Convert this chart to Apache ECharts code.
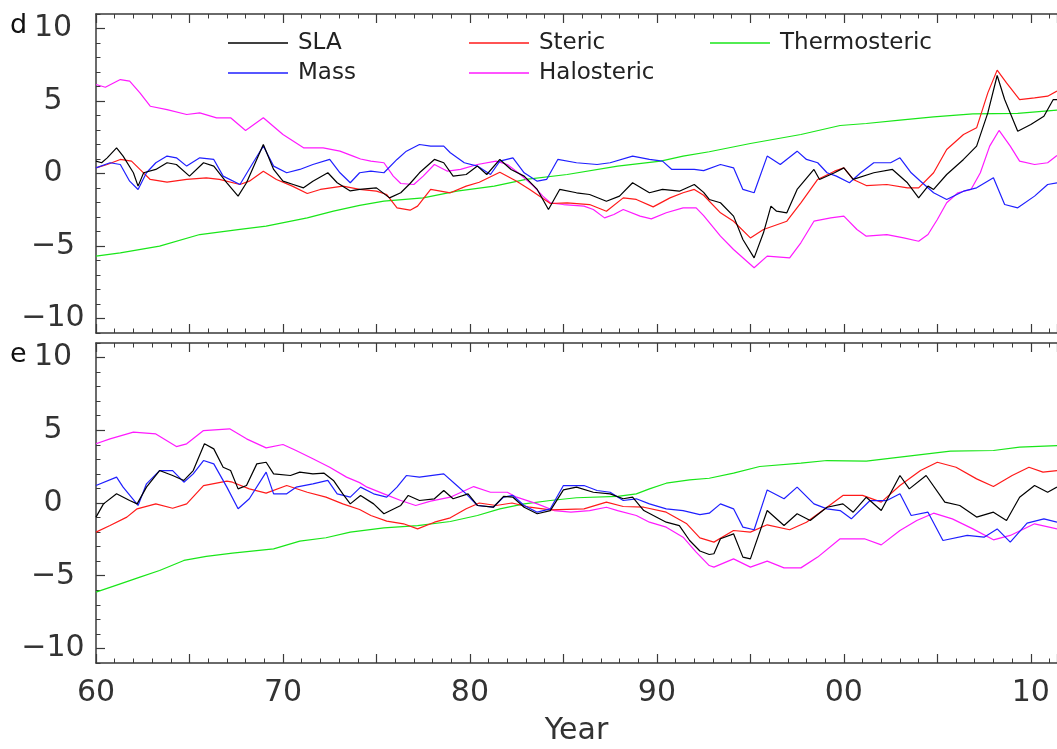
<!DOCTYPE html>
<html>
<head>
<meta charset="utf-8">
<script src="https://cdn.jsdelivr.net/npm/echarts@6/dist/echarts.min.js"></script>
<style>
html,body{margin:0;padding:0;background:#fff;}
#chart{width:1057px;height:749px;}
</style>
</head>
<body>
<div id="chart"></div>
<script>
// ---------- data: [year, value] ----------
const seriesNames = ['SLA', 'Mass', 'Steric', 'Halosteric', 'Thermosteric'];
const panelLabels = ['d', 'e'];
const xLabelYears = [1960, 1970, 1980, 1990, 2000, 2010];
const yLabelValues = [-10, -5, 0, 5, 10];

const dSLA = [[1960,0.85],[1960.3,0.74],[1960.6,1.08],[1961.1,1.77],[1961.45,1.2],[1962.0,0.05],[1962.25,-0.87],[1962.55,0.05],[1963.2,0.28],[1963.8,0.74],[1964.3,0.62],[1965.0,-0.18],[1965.75,0.74],[1966.3,0.51],[1967.0,-0.64],[1967.6,-1.56],[1968.05,-0.64],[1968.95,2.0],[1969.5,0.28],[1970.0,-0.53],[1970.55,-0.76],[1971.1,-0.99],[1971.6,-0.53],[1972.4,0.05],[1972.9,-0.64],[1973.6,-1.2],[1974.1,-1.1],[1975.0,-0.99],[1975.7,-1.68],[1976.3,-1.33],[1976.8,-0.69],[1977.3,0.05],[1978.1,0.97],[1978.6,0.74],[1979.1,-0.18],[1979.8,-0.07],[1980.4,0.51],[1980.9,-0.07],[1981.6,0.97],[1982.2,0.28],[1982.9,-0.18],[1983.6,-1.1],[1984.2,-2.48],[1984.8,-1.1],[1985.7,-1.33],[1986.4,-1.45],[1987.3,-1.91],[1988.0,-1.56],[1988.7,-0.64],[1989.6,-1.33],[1990.3,-1.1],[1991.2,-1.22],[1992.0,-0.76],[1992.5,-1.3],[1992.8,-1.79],[1993.4,-2.02],[1994.1,-2.94],[1994.6,-4.55],[1995.2,-5.82],[1995.7,-4.09],[1996.1,-2.25],[1996.4,-2.6],[1996.95,-2.71],[1997.5,-1.1],[1998.4,0.28],[1998.7,-0.41],[1999.5,0.05],[2000.0,0.39],[2000.5,-0.41],[2001.6,0.05],[2002.6,0.28],[2003.4,-0.64],[2004.0,-1.68],[2004.5,-0.87],[2004.8,-1.1],[2005.5,-0.07],[2006.4,0.97],[2007.1,1.89],[2007.7,4.18],[2008.2,6.76],[2008.6,5.1],[2009.3,2.92],[2010.0,3.38],[2010.7,3.95],[2011.2,5.1],[2011.4,5.1]];
const dMass = [[1960,0.39],[1960.75,0.74],[1961.3,0.62],[1961.8,-0.53],[1962.25,-1.1],[1962.7,0.05],[1963.2,0.74],[1963.8,1.2],[1964.3,1.08],[1964.85,0.51],[1965.55,1.08],[1966.3,0.97],[1966.8,-0.18],[1967.7,-0.76],[1968.4,0.74],[1968.95,1.89],[1969.5,0.51],[1970.2,0.05],[1970.9,0.28],[1971.6,0.62],[1972.5,0.97],[1973.05,0.05],[1973.6,-0.64],[1974.1,0.05],[1974.7,0.16],[1975.4,0.05],[1976.1,0.97],[1976.6,1.54],[1977.3,2.0],[1977.9,1.89],[1978.6,1.89],[1978.95,1.43],[1979.7,0.74],[1980.4,0.51],[1981.1,-0.07],[1981.6,0.85],[1982.3,1.08],[1982.9,0.05],[1983.6,-0.53],[1984.1,-0.41],[1984.7,0.97],[1985.7,0.74],[1986.8,0.62],[1987.5,0.74],[1988.7,1.2],[1989.6,0.97],[1990.3,0.85],[1990.8,0.28],[1992.0,0.28],[1992.5,0.2],[1993.4,0.62],[1994.1,0.39],[1994.6,-1.1],[1995.2,-1.33],[1995.9,1.2],[1996.6,0.62],[1997.5,1.54],[1998.0,0.97],[1998.6,0.74],[1999.1,0.05],[1999.6,-0.18],[2000.3,-0.64],[2000.9,0.05],[2001.6,0.74],[2002.5,0.74],[2003.0,1.08],[2003.6,0.05],[2004.1,-0.53],[2004.8,-1.33],[2005.5,-1.79],[2006.4,-1.22],[2007.1,-0.99],[2008.0,-0.3],[2008.6,-2.14],[2009.3,-2.37],[2010.2,-1.56],[2010.9,-0.76],[2011.4,-0.64]];
const dSteric = [[1960,0.39],[1960.6,0.62],[1961.3,0.97],[1961.9,0.85],[1962.35,0.28],[1962.9,-0.41],[1963.8,-0.6],[1964.85,-0.41],[1965.9,-0.3],[1966.6,-0.41],[1967.7,-0.76],[1968.2,-0.53],[1968.95,0.16],[1969.65,-0.41],[1970.5,-0.87],[1971.3,-1.38],[1972.0,-1.1],[1973.2,-0.87],[1974.1,-1.1],[1975.0,-1.22],[1975.55,-1.45],[1976.1,-2.37],[1976.8,-2.53],[1977.2,-2.25],[1977.9,-1.1],[1978.95,-1.33],[1979.8,-0.87],[1980.5,-0.6],[1981.6,0.09],[1982.5,-0.53],[1983.2,-1.1],[1984.3,-2.07],[1985.2,-2.02],[1986.4,-2.14],[1987.3,-2.6],[1988.2,-1.68],[1988.9,-1.79],[1989.8,-2.3],[1990.7,-1.68],[1991.4,-1.33],[1992.0,-1.1],[1992.5,-1.5],[1993.4,-2.71],[1994.1,-3.29],[1995.0,-4.44],[1995.7,-3.86],[1996.95,-3.29],[1997.7,-2.02],[1998.6,-0.41],[1999.5,0.16],[2000.0,0.39],[2000.5,-0.41],[2001.2,-0.83],[2002.3,-0.76],[2003.4,-0.99],[2004.0,-0.99],[2004.8,0.05],[2005.5,1.66],[2006.4,2.69],[2007.1,3.15],[2007.7,5.56],[2008.2,7.13],[2008.7,6.25],[2009.4,5.1],[2010.2,5.22],[2010.9,5.33],[2011.4,5.68]];
const dHalosteric = [[1960,6.14],[1960.5,5.95],[1961.3,6.48],[1961.8,6.37],[1962.35,5.56],[1962.9,4.64],[1963.8,4.41],[1964.85,4.07],[1965.55,4.18],[1966.45,3.84],[1967.2,3.84],[1968.0,2.97],[1968.95,3.84],[1970.0,2.69],[1971.1,1.77],[1972.15,1.77],[1973.05,1.54],[1973.75,1.2],[1974.15,1.0],[1974.7,0.85],[1975.4,0.74],[1975.9,-0.18],[1976.3,-0.69],[1977.0,-0.76],[1977.5,-0.18],[1978.1,0.62],[1978.8,0.16],[1979.5,0.28],[1980.4,0.62],[1981.4,0.85],[1982.0,0.62],[1982.7,-0.07],[1983.4,-0.87],[1983.9,-1.56],[1984.3,-2.02],[1985.0,-2.14],[1986.1,-2.25],[1986.6,-2.48],[1987.2,-3.06],[1987.7,-2.83],[1988.2,-2.48],[1989.1,-2.94],[1989.7,-3.13],[1990.5,-2.71],[1991.4,-2.37],[1992.1,-2.37],[1992.5,-2.9],[1993.4,-4.32],[1994.1,-5.24],[1995.2,-6.5],[1995.9,-5.7],[1997.1,-5.82],[1997.7,-4.78],[1998.4,-3.29],[1999.3,-3.06],[2000.0,-2.94],[2000.7,-3.86],[2001.2,-4.32],[2002.3,-4.21],[2003.2,-4.44],[2004.0,-4.67],[2004.5,-4.21],[2005.0,-3.17],[2005.5,-2.02],[2006.1,-1.33],[2006.8,-1.1],[2007.3,0.05],[2007.8,1.89],[2008.3,2.97],[2008.9,1.89],[2009.4,0.85],[2010.2,0.62],[2010.9,0.74],[2011.4,1.25]];
const dThermosteric = [[1960,-5.7],[1961.3,-5.47],[1963.4,-5.01],[1965.55,-4.21],[1967.7,-3.86],[1969.1,-3.63],[1971.3,-3.06],[1972.7,-2.6],[1974.1,-2.2],[1975.4,-1.91],[1977.5,-1.68],[1979.3,-1.22],[1981.3,-0.87],[1983.0,-0.41],[1985.2,-0.07],[1987.9,0.51],[1990.2,0.85],[1991.4,1.2],[1992.8,1.5],[1995.0,2.07],[1997.7,2.69],[1999.8,3.31],[2001.2,3.45],[2003.0,3.68],[2004.8,3.91],[2006.9,4.11],[2009.3,4.14],[2011.4,4.37]];

const eSLA = [[1960,-0.97],[1960.4,-0.06],[1961.1,0.63],[1961.8,0.17],[1962.2,-0.06],[1962.7,1.09],[1963.4,2.23],[1964.1,1.89],[1964.7,1.55],[1965.2,2.23],[1965.8,4.07],[1966.3,3.72],[1966.8,2.46],[1967.2,2.23],[1967.6,0.97],[1968.05,1.2],[1968.6,2.69],[1969.1,2.8],[1969.5,2.0],[1970.4,1.89],[1970.9,2.12],[1971.6,2.0],[1972.2,2.05],[1972.7,1.55],[1973.2,0.63],[1973.6,-0.06],[1974.15,0.52],[1974.85,-0.06],[1975.4,-0.74],[1976.3,-0.17],[1976.7,0.52],[1977.3,0.17],[1978.1,0.29],[1978.6,0.86],[1979.1,0.29],[1979.9,0.63],[1980.4,-0.17],[1981.25,-0.29],[1981.8,0.45],[1982.3,0.4],[1982.9,-0.29],[1983.6,-0.74],[1984.3,-0.52],[1985.0,0.9],[1985.7,1.09],[1986.6,0.74],[1987.5,0.63],[1988.2,0.29],[1988.7,0.4],[1989.3,-0.52],[1990.5,-1.32],[1991.2,-1.55],[1991.75,-2.58],[1992.3,-3.3],[1992.8,-3.54],[1993.05,-3.49],[1993.4,-2.46],[1994.1,-2.12],[1994.6,-3.72],[1995.0,-3.84],[1995.9,-0.52],[1996.8,-1.55],[1997.5,-0.74],[1998.2,-1.2],[1999.1,-0.29],[1999.95,-0.06],[2000.5,-0.63],[2001.2,0.4],[2002.0,-0.52],[2003.0,1.89],[2003.5,0.97],[2004.4,1.89],[2005.4,0.06],[2006.2,-0.17],[2007.1,-0.97],[2008.0,-0.63],[2008.7,-1.2],[2009.4,0.4],[2010.2,1.2],[2010.9,0.74],[2011.4,1.09]];
const eMass = [[1960,1.2],[1961.1,1.78],[1961.45,1.09],[1962.25,-0.17],[1962.7,1.32],[1963.4,2.23],[1964.1,2.23],[1964.7,1.43],[1965.2,2.0],[1965.75,2.92],[1966.3,2.69],[1967.0,1.09],[1967.6,-0.4],[1968.2,0.29],[1969.1,2.12],[1969.5,0.63],[1970.2,0.63],[1970.7,1.09],[1971.6,1.32],[1972.4,1.55],[1972.9,0.63],[1973.6,0.4],[1974.15,1.09],[1974.85,0.63],[1975.55,0.4],[1976.1,1.09],[1976.6,1.89],[1977.3,1.78],[1978.6,2.0],[1979.3,1.2],[1979.8,0.63],[1980.4,-0.17],[1981.25,-0.29],[1981.8,0.4],[1982.3,0.52],[1982.9,-0.17],[1983.6,-0.63],[1984.3,-0.4],[1985.0,1.2],[1986.1,1.2],[1986.8,0.86],[1987.5,0.74],[1988.2,0.17],[1988.9,0.29],[1989.6,-0.06],[1990.5,-0.4],[1991.4,-0.52],[1992.3,-0.8],[1992.8,-0.7],[1993.4,-0.06],[1994.1,-0.4],[1994.6,-1.66],[1995.2,-1.84],[1995.9,0.9],[1996.8,0.29],[1997.5,1.09],[1998.4,-0.06],[1999.1,-0.4],[1999.8,-0.52],[2000.4,-1.09],[2001.4,0.17],[2002.3,0.17],[2003.0,0.63],[2003.6,-0.86],[2004.5,-0.63],[2005.3,-2.58],[2006.6,-2.23],[2007.5,-2.35],[2008.2,-1.78],[2008.9,-2.69],[2009.8,-1.38],[2010.7,-1.09],[2011.4,-1.32]];
const eSteric = [[1960,-2.0],[1960.75,-1.55],[1961.65,-0.97],[1962.2,-0.4],[1963.2,-0.06],[1964.1,-0.36],[1964.85,-0.06],[1965.75,1.2],[1967.0,1.5],[1967.3,1.43],[1968.2,0.97],[1969.1,0.68],[1970.2,1.2],[1971.3,0.74],[1972.3,0.4],[1973.2,-0.06],[1974.1,-0.45],[1974.7,-0.86],[1975.55,-1.25],[1976.45,-1.43],[1977.2,-1.78],[1978.1,-1.32],[1978.95,-1.02],[1979.8,-0.4],[1980.5,0],[1981.4,-0.17],[1982.25,0],[1983.2,-0.29],[1984.3,-0.47],[1986.1,-0.4],[1987.3,0.06],[1988.2,-0.24],[1989.3,-0.29],[1990.5,-0.63],[1991.6,-1.43],[1992.3,-2.4],[1993.05,-2.69],[1994.1,-1.89],[1995.0,-2.0],[1995.9,-1.5],[1997.1,-1.84],[1998.0,-1.32],[1999.1,-0.29],[1999.95,0.52],[2001.0,0.52],[2002.0,0.06],[2003.0,1.2],[2004.1,2.23],[2005.0,2.8],[2006.0,2.46],[2007.1,1.66],[2008.0,1.13],[2009.0,1.89],[2009.9,2.46],[2010.65,2.12],[2011.4,2.23]];
const eHalosteric = [[1960,4.07],[1960.75,4.41],[1962.0,4.87],[1963.2,4.75],[1964.3,3.88],[1964.85,4.07],[1965.75,4.98],[1967.15,5.1],[1968.05,4.41],[1969.1,3.79],[1970.0,4.02],[1970.7,3.61],[1971.6,3.04],[1972.5,2.46],[1973.4,1.78],[1974.1,1.4],[1974.5,1.09],[1975.4,0.63],[1976.3,0.17],[1977.1,-0.17],[1977.9,0.13],[1978.95,0.4],[1980.2,1.13],[1981.1,0.74],[1982.0,0.74],[1982.5,0.4],[1983.6,-0.06],[1984.5,-0.52],[1985.4,-0.63],[1986.4,-0.52],[1987.3,-0.29],[1987.9,-0.52],[1988.9,-0.86],[1989.6,-1.32],[1990.5,-1.66],[1991.4,-2.35],[1992.1,-3.38],[1992.8,-4.3],[1993.05,-4.41],[1994.1,-3.84],[1995.0,-4.41],[1995.9,-4.0],[1996.8,-4.46],[1997.7,-4.46],[1998.6,-3.72],[1999.8,-2.46],[2001.1,-2.46],[2002.0,-2.88],[2003.0,-1.89],[2003.9,-1.2],[2004.8,-0.7],[2005.8,-1.09],[2006.9,-1.78],[2008.0,-2.53],[2008.9,-2.23],[2010.2,-1.43],[2011.4,-1.78]];
const eThermosteric = [[1960,-6.13],[1961.3,-5.56],[1962.35,-5.1],[1963.4,-4.64],[1964.7,-3.95],[1965.9,-3.67],[1967.3,-3.45],[1969.5,-3.15],[1970.9,-2.62],[1972.3,-2.39],[1973.6,-2.0],[1975.4,-1.71],[1977.2,-1.55],[1978.95,-1.27],[1980.4,-0.86],[1981.6,-0.4],[1982.9,-0.06],[1984.3,0.17],[1985.7,0.36],[1987.9,0.45],[1988.9,0.63],[1989.6,0.97],[1990.5,1.36],[1991.75,1.59],[1992.8,1.7],[1994.1,2.05],[1995.5,2.51],[1997.7,2.74],[1999.1,2.92],[2001.2,2.88],[2003.0,3.15],[2005.7,3.56],[2008.0,3.61],[2009.4,3.84],[2011.4,3.95]];

// ---------- styling ----------
const FONT = 'DejaVu Sans';
const AX = '#3a3a3a';
const colors = { SLA: '#000000', Mass: '#1f1fff', Steric: '#ff1a1a', Halosteric: '#ff1aff', Thermosteric: '#19e619' };

function fmtYear(v) {
  if (xLabelYears.indexOf(Math.round(v)) < 0 || Math.abs(v - Math.round(v)) > 1e-6) return '';
  const r = Math.round(v) % 100;
  return (r < 10 ? '0' : '') + r;
}
function fmtY(v) { return v < 0 ? '\u2212' + Math.abs(v) : String(v); }

function xAx(gridIndex, position, showLabels, showName) {
  return {
    type: 'value', gridIndex: gridIndex, position: position,
    min: 1960, max: 2011.4, interval: 5,
    axisLine: { show: true, onZero: false, lineStyle: { color: AX, width: 1.5 } },
    axisTick: { show: true, inside: true, length: 9, lineStyle: { color: AX, width: 1.2 } },
    minorTick: { show: true, splitNumber: 5, length: 4.5, lineStyle: { color: AX, width: 1 } },
    splitLine: { show: false },
    axisLabel: { show: showLabels, formatter: fmtYear, fontFamily: FONT, fontSize: 30, color: '#333', margin: 15, showMaxLabel: false },
    name: showName ? 'Year' : '', nameLocation: 'middle', nameGap: 53,
    nameTextStyle: { fontFamily: FONT, fontSize: 30, color: '#333' }
  };
}
function yMajor(gridIndex) {
  return {
    type: 'value', gridIndex: gridIndex, position: 'left',
    min: -11, max: 11, interval: 1,
    axisLine: { show: true, onZero: false, lineStyle: { color: AX, width: 1.5 } },
    axisTick: { show: true, inside: true, length: 9, customValues: yLabelValues, lineStyle: { color: AX, width: 1.2 } },
    splitLine: { show: false },
    axisLabel: { show: true, customValues: yLabelValues, formatter: fmtY, fontFamily: FONT, fontSize: 30, color: '#333', align: 'center', margin: 43 }
  };
}
function yMinor(gridIndex) {
  return {
    type: 'value', gridIndex: gridIndex, position: 'left',
    min: -11, max: 11, interval: 1,
    axisLine: { show: false, onZero: false },
    axisTick: { show: true, inside: true, length: 4.5, lineStyle: { color: AX, width: 1 } },
    splitLine: { show: false },
    axisLabel: { show: false }
  };
}

const panels = [
  { SLA: dSLA, Mass: dMass, Steric: dSteric, Halosteric: dHalosteric, Thermosteric: dThermosteric },
  { SLA: eSLA, Mass: eMass, Steric: eSteric, Halosteric: eHalosteric, Thermosteric: eThermosteric }
];
const drawOrder = ['Thermosteric', 'Halosteric', 'Steric', 'Mass', 'SLA'];
const series = [];
panels.forEach(function (p, i) {
  drawOrder.forEach(function (name) {
    series.push({
      name: name, type: 'line', xAxisIndex: i * 2, yAxisIndex: i * 2,
      data: p[name], showSymbol: false, symbol: 'none', smooth: false,
      lineStyle: { color: colors[name], width: 1.2 }, itemStyle: { color: colors[name] },
      animation: false, silent: true
    });
  });
});

function legendCol(left, names) {
  return {
    left: left, top: 31, orient: 'vertical', icon: 'rect', itemWidth: 60, itemHeight: 1.5,
    itemGap: 6, padding: 0, selectedMode: false, data: names,
    textStyle: { fontFamily: FONT, fontSize: 23, color: '#222', lineHeight: 24, padding: [0, 0, 0, 5] }
  };
}

const chart = echarts.init(document.getElementById('chart'), null, { renderer: 'canvas' });
chart.setOption({
  backgroundColor: '#ffffff',
  animation: false,
  grid: [
    { left: 96, right: 0, top: 14, height: 319 },
    { left: 96, right: 0, top: 343, height: 320 }
  ],
  xAxis: [xAx(0, 'bottom', false, false), xAx(0, 'top', false, false), xAx(1, 'bottom', true, true), xAx(1, 'top', false, false)],
  yAxis: [yMajor(0), yMinor(0), yMajor(1), yMinor(1)],
  legend: [legendCol(228, ['SLA', 'Mass']), legendCol(469, ['Steric', 'Halosteric']), legendCol(710, ['Thermosteric'])],
  graphic: [
    { type: 'text', left: 10, top: 12, style: { text: panelLabels[0], font: '27px "DejaVu Sans"', fill: '#111' } },
    { type: 'text', left: 10, top: 341, style: { text: panelLabels[1], font: '27px "DejaVu Sans"', fill: '#111' } }
  ],
  series: series
});
</script>
</body>
</html>
